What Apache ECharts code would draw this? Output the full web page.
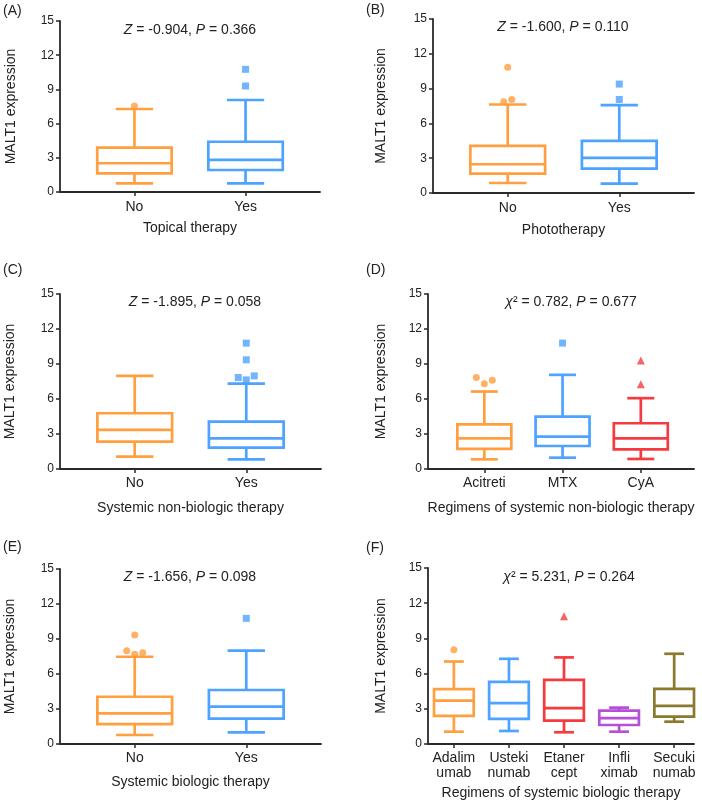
<!DOCTYPE html>
<html>
<head>
<meta charset="utf-8">
<script src="https://cdn.jsdelivr.net/npm/echarts@6/dist/echarts.min.js"></script>
<style>
  html, body { margin: 0; padding: 0; background: #fff; }
  #chart { width: 702px; height: 804px; }
</style>
</head>
<body>
<div id="chart"></div>
<script>
// box values are [min, Q1, median, Q3, max] (whisker to whisker), outliers per group
const catsA = ['No', 'Yes']
const boxA = [[0.76, 1.64, 2.52, 3.9, 7.28], [0.76, 1.93, 2.81, 4.41, 8.07]]
const outA = [[7.55], [10.76, 9.3]]

const catsB = ['No', 'Yes']
const boxB = [[0.86, 1.67, 2.48, 4.06, 7.63], [0.81, 2.1, 3.02, 4.49, 7.57]]
const outB = [[10.83, 7.86, 8.06], [9.39, 8.06]]

const catsC = ['No', 'Yes']
const boxC = [[1.06, 2.35, 3.35, 4.78, 7.98], [0.83, 1.83, 2.63, 4.06, 7.32]]
const outC = [[], [10.79, 9.36, 7.84, 7.64, 7.98]]

const catsD = ['Acitreti', 'MTX', 'CyA']
const boxD = [[0.83, 1.72, 2.63, 3.83, 6.64], [0.97, 1.97, 2.77, 4.49, 8.07], [0.86, 1.69, 2.63, 3.92, 6.07]]
const outD = [[7.84, 7.3, 7.61], [10.79], [9.3, 7.27]]

const catsE = ['No', 'Yes']
const boxE = [[0.77, 1.71, 2.63, 4.05, 7.48], [1.0, 2.17, 3.2, 4.63, 8.0]]
const outE = [[9.34, 8.0, 7.69, 7.82], [10.77]]

const catsF = ['Adalim\numab', 'Usteki\nnumab', 'Etaner\ncept', 'Infli\nximab', 'Secuki\nnumab']
const boxF = [[1.05, 2.39, 3.7, 4.67, 7.03], [1.11, 2.14, 3.48, 5.3, 7.26], [1.0, 1.99, 3.05, 5.47, 7.38], [1.05, 1.62, 2.2, 2.85, 3.1], [1.9, 2.33, 3.25, 4.7, 7.69]]
const outF = [[8.03], [], [10.88], [], []]

const yTicks = [0, 3, 6, 9, 12, 15]

const ORANGE = '#FF9F40'
const BLUE = '#4DA3FF'
const RED = '#F53B3F'
const PURPLE = '#B650DA'
const OLIVE = '#8A7A2E'
const groupColors = [ORANGE, BLUE, RED, PURPLE, OLIVE]
const groupSymbols = ['circle', 'rect', 'triangle', 'circle', 'circle']

const FONT = '"Liberation Sans", Arial, Helvetica, sans-serif'
const TEXT = '#222'
const AXIS = '#2a2a2a'

const panels = [
  { letter: '(A)', cats: catsA, box: boxA, out: outA, stat: '{i|Z} = -0.904, {i|P} = 0.366', xName: 'Topical therapy',
    grid: { left: 60, top: 21, width: 260, height: 171 }, xMin: -0.67, xMax: 1.67, boxW: 0.67,
    letterPos: [3, 4], statPos: [190, 23], nameGapY: 42, nameGapX: 29, labelMargin: 8 },
  { letter: '(B)', cats: catsB, box: boxB, out: outB, stat: '{i|Z} = -1.600, {i|P} = 0.110', xName: 'Phototherapy',
    grid: { left: 433, top: 19, width: 261, height: 174 }, xMin: -0.67, xMax: 1.67, boxW: 0.67,
    letterPos: [366, 3], statPos: [563, 20], nameGapY: 45, nameGapX: 30, labelMargin: 8 },
  { letter: '(C)', cats: catsC, box: boxC, out: outC, stat: '{i|Z} = -1.895, {i|P} = 0.058', xName: 'Systemic non-biologic therapy',
    grid: { left: 60, top: 294, width: 261, height: 175 }, xMin: -0.67, xMax: 1.67, boxW: 0.67,
    letterPos: [3, 263], statPos: [195, 295], nameGapY: 43, nameGapX: 32, labelMargin: 7 },
  { letter: '(D)', cats: catsD, box: boxD, out: outD, stat: '{i|χ}² = 0.782, {i|P} = 0.677', xName: 'Regimens of systemic non-biologic therapy',
    grid: { left: 428, top: 294, width: 266, height: 175 }, xMin: -0.72, xMax: 2.68, boxW: 0.69,
    letterPos: [366, 263], statPos: [571, 295], nameGapY: 40, nameGapX: 32, labelMargin: 7 },
  { letter: '(E)', cats: catsE, box: boxE, out: outE, stat: '{i|Z} = -1.656, {i|P} = 0.098', xName: 'Systemic biologic therapy',
    grid: { left: 60, top: 569, width: 261, height: 175 }, xMin: -0.67, xMax: 1.67, boxW: 0.67,
    letterPos: [3, 540], statPos: [190, 570], nameGapY: 43, nameGapX: 31, labelMargin: 7 },
  { letter: '(F)', cats: catsF, box: boxF, out: outF, stat: '{i|χ}² = 5.231, {i|P} = 0.264', xName: 'Regimens of systemic biologic therapy',
    grid: { left: 428, top: 568, width: 266, height: 176 }, xMin: -0.47, xMax: 4.36, boxW: 0.72,
    letterPos: [366, 541], statPos: [569, 570], nameGapY: 40, nameGapX: 42, labelMargin: 7 }
]

// spread outliers that sit close together sideways (like a jittered dot plot)
function spreadOutliers(vals, pxPerUnitX, pxPerUnitY) {
  const order = vals.map((v, i) => i).sort((a, b) => vals[a] - vals[b])
  const clusters = []
  order.forEach(i => {
    const last = clusters[clusters.length - 1]
    if (last && (vals[i] - vals[last[last.length - 1]]) * pxPerUnitY < 8) last.push(i)
    else clusters.push([i])
  })
  const offs = new Array(vals.length).fill(0)
  clusters.forEach(c => {
    c.sort((a, b) => a - b)
    c.forEach((idx, k) => { offs[idx] = (k - (c.length - 1) / 2) * 8 / pxPerUnitX })
  })
  return offs
}

function makeRender(boxW) {
  return function (params, api) {
    const x = api.value(0)
    const lo = api.coord([x, api.value(1)])
    const q1 = api.coord([x, api.value(2)])
    const md = api.coord([x, api.value(3)])
    const q3 = api.coord([x, api.value(4)])
    const hi = api.coord([x, api.value(5)])
    const w = api.size([boxW, 0])[0]
    const cx = lo[0]
    const color = groupColors[params.dataIndex]
    const st = { stroke: color, lineWidth: 2.7, fill: null }
    return {
      type: 'group',
      children: [
        { type: 'line', shape: { x1: cx, y1: hi[1], x2: cx, y2: q3[1] }, style: st },
        { type: 'line', shape: { x1: cx, y1: q1[1], x2: cx, y2: lo[1] }, style: st },
        { type: 'line', shape: { x1: cx - w / 4, y1: hi[1], x2: cx + w / 4, y2: hi[1] }, style: st },
        { type: 'line', shape: { x1: cx - w / 4, y1: lo[1], x2: cx + w / 4, y2: lo[1] }, style: st },
        { type: 'rect', shape: { x: cx - w / 2, y: q3[1], width: w, height: q1[1] - q3[1] }, style: { stroke: color, lineWidth: 2.7, fill: '#fff' } },
        { type: 'line', shape: { x1: cx - w / 2, y1: md[1], x2: cx + w / 2, y2: md[1] }, style: st }
      ]
    }
  }
}

const grids = [], xAxes = [], yAxes = [], series = [], titles = []

panels.forEach((p, pi) => {
  grids.push(Object.assign({ containLabel: false }, p.grid))
  const idxs = p.cats.map((c, i) => i)
  xAxes.push({
    type: 'value', gridIndex: pi, min: p.xMin, max: p.xMax,
    splitLine: { show: false },
    axisLine: { show: true, onZero: false, lineStyle: { color: AXIS, width: 1.8 } },
    axisTick: { show: true, length: 4, customValues: idxs, lineStyle: { color: AXIS, width: 1.5 } },
    axisLabel: {
      customValues: idxs, margin: p.labelMargin, fontSize: 14, lineHeight: 15,
      color: TEXT, fontFamily: FONT,
      formatter: v => p.cats[Math.round(v)] || ''
    },
    name: p.xName, nameLocation: 'middle', nameGap: p.nameGapX,
    nameTextStyle: { fontSize: 14, color: TEXT, fontFamily: FONT }
  })
  yAxes.push({
    type: 'value', gridIndex: pi, min: yTicks[0], max: yTicks[yTicks.length - 1], interval: 3,
    splitLine: { show: false },
    axisLine: { show: true, onZero: false, lineStyle: { color: AXIS, width: 1.8 } },
    axisTick: { show: true, length: 4, lineStyle: { color: AXIS, width: 1.5 } },
    axisLabel: { margin: 6, fontSize: 12, color: TEXT, fontFamily: FONT },
    name: 'MALT1 expression', nameLocation: 'middle', nameGap: p.nameGapY,
    nameTextStyle: { fontSize: 14, color: TEXT, fontFamily: FONT }
  })
  series.push({
    type: 'custom', xAxisIndex: pi, yAxisIndex: pi,
    renderItem: makeRender(p.boxW),
    encode: { x: 0, y: [1, 2, 3, 4, 5] },
    data: p.box.map((b, i) => [i].concat(b)),
    silent: true, z: 2
  })
  const pxX = p.grid.width / (p.xMax - p.xMin)
  const pxY = p.grid.height / 15
  const pts = []
  p.out.forEach((vals, gi) => {
    const offs = spreadOutliers(vals, pxX, pxY)
    vals.forEach((v, k) => {
      pts.push({
        value: [gi + offs[k], v],
        symbol: groupSymbols[gi],
        symbolSize: groupSymbols[gi] === 'triangle' ? 8 : 7,
        itemStyle: { color: groupColors[gi] }
      })
    })
  })
  series.push({
    type: 'scatter', xAxisIndex: pi, yAxisIndex: pi, data: pts, silent: true, z: 3
  })
  titles.push({
    text: p.letter, left: p.letterPos[0], top: p.letterPos[1], padding: 0,
    textStyle: { fontSize: 14, fontWeight: 'normal', color: TEXT, fontFamily: FONT }
  })
  titles.push({
    text: p.stat, left: p.statPos[0], top: p.statPos[1], padding: 0, textAlign: 'center',
    textStyle: {
      fontSize: 14, fontWeight: 'normal', color: TEXT, fontFamily: FONT,
      rich: { i: { fontSize: 14, fontStyle: 'italic', color: TEXT, fontFamily: FONT } }
    }
  })
})

const chart = echarts.init(document.getElementById('chart'), null, { renderer: 'canvas' })
chart.setOption({
  backgroundColor: '#fff',
  animation: false,
  title: titles,
  grid: grids,
  xAxis: xAxes,
  yAxis: yAxes,
  series: series
})
</script>
</body>
</html>
